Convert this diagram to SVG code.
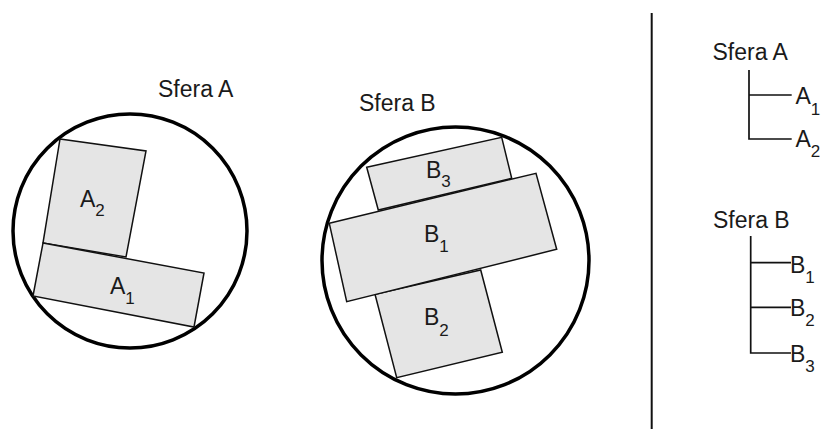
<svg xmlns="http://www.w3.org/2000/svg" width="824" height="429" viewBox="0 0 824 429">
<style>
text{font-family:"Liberation Sans",Arial,sans-serif;font-size:23px;fill:#1a1a1a}
.sub{font-size:17px}
.sphere{fill:none;stroke:#000;stroke-width:3.5}
.part{fill:#e5e5e5;stroke:#111;stroke-width:1.5;stroke-linejoin:miter}
.tree{fill:none;stroke:#111;stroke-width:1.7}
</style>
<rect width="824" height="429" fill="#fff"/>
<g id="sferaA">
  <circle class="sphere" cx="130" cy="231" r="117"/>
  <text x="158" y="97">Sfera A</text>
</g>
<g id="A2">
  <polygon class="part" points="60,139 146,151 126,257 43,243"/>
  <text x="80" y="207">A<tspan class="sub" dy="9">2</tspan></text>
</g>
<g id="A1">
  <polygon class="part" points="43,243 204,273 194,327 33,296"/>
  <text x="110" y="293.5">A<tspan class="sub" dy="10">1</tspan></text>
</g>
<g id="sferaB">
  <circle class="sphere" cx="455.5" cy="260.5" r="133.5"/>
  <text x="359" y="111">Sfera B</text>
</g>
<g id="B3">
  <polygon class="part" points="366.7,167.3 501.7,137.3 511.7,178.3 378.3,210"/>
  <text x="426" y="178.3">B<tspan class="sub" dy="9">3</tspan></text>
</g>
<g id="B2">
  <polygon class="part" points="375,294.3 480.7,270 502.3,352.3 396.7,377.7"/>
  <text x="424" y="325">B<tspan class="sub" dy="11">2</tspan></text>
</g>
<g id="B1">
  <polygon class="part" points="329.3,223.3 536,173.3 556.7,249.3 346.7,301.7"/>
  <text x="424" y="241.7">B<tspan class="sub" dy="10">1</tspan></text>
</g>
<g id="divider">
  <line x1="651.7" y1="13" x2="651.7" y2="429" stroke="#111" stroke-width="2"/>
</g>
<g id="treeA">
  <text x="712.5" y="60">Sfera A</text>
</g>
<g id="treeA1">
  <text x="795.5" y="104">A<tspan class="sub" dy="11">1</tspan></text>
</g>
<g id="treeA2">
  <text x="795.5" y="147">A<tspan class="sub" dy="10">2</tspan></text>
</g>
<g id="treeB">
  <text x="713" y="228">Sfera B</text>
</g>
<g id="treeB1">
  <text x="790" y="272.5">B<tspan class="sub" dy="10">1</tspan></text>
</g>
<g id="treeB2">
  <text x="790" y="316">B<tspan class="sub" dy="10">2</tspan></text>
</g>
<g id="treeB3">
  <text x="790" y="361.5">B<tspan class="sub" dy="10">3</tspan></text>
</g>
<g id="connectors">
  <path class="tree" d="M749,70 V139 H791.7 M749,95 H791.7"/>
  <path class="tree" d="M750.7,236 V353 H791 M750.7,262.7 H791 M750.7,307.3 H791"/>
</g>
</svg>
